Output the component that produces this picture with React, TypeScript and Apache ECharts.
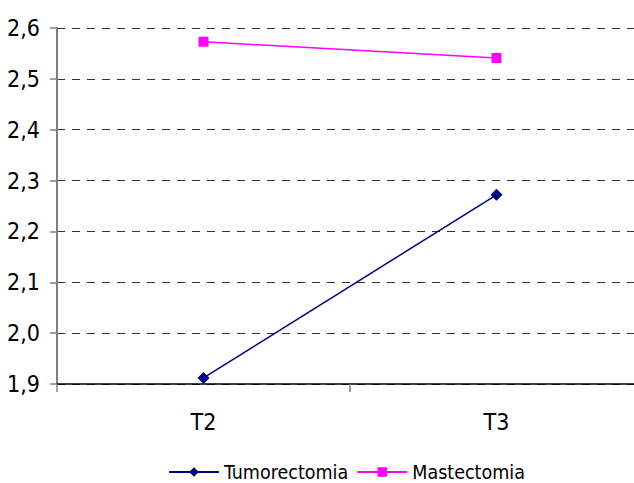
import React, { useEffect, useRef } from "react";
import * as echarts from "echarts";

const categories = ["T2", "T3"];
const tumorectomia = [1.912, 2.272];
const mastectomia = [2.573, 2.541];
const yMin = 1.9;
const yMax = 2.6;
const yInterval = 0.1;

const FONT = "'Liberation Sans Narrow', 'Arial Narrow', 'DejaVu Sans Condensed', sans-serif";

export default function App() {
  const ref = useRef<HTMLDivElement>(null);
  useEffect(() => {
    if (!ref.current) return;
    const chart = echarts.init(ref.current, null, { renderer: "svg" });
    chart.setOption({
      animation: false,
      backgroundColor: "#ffffff",
      grid: {
        left: 57,
        width: 586,
        top: 28,
        height: 356,
        containLabel: false,
        outerBoundsMode: "none",
      },
      legend: {
        left: 168,
        top: 462,
        padding: 0,
        itemWidth: 50,
        itemHeight: 12,
        itemGap: 8,
        textStyle: { fontFamily: FONT, fontSize: 19.5, color: "#000" },
        data: ["Tumorectomia", "Mastectomia"],
      },
      xAxis: {
        type: "category",
        data: categories,
        boundaryGap: true,
        axisLine: { lineStyle: { color: "#000", width: 1.5 } },
        axisTick: { show: true, length: 8, lineStyle: { color: "#808080", width: 1.5 } },
        axisLabel: { fontFamily: FONT, fontSize: 23, color: "#000", margin: 26 },
        splitLine: { show: false },
      },
      yAxis: {
        type: "value",
        min: yMin,
        max: yMax,
        interval: yInterval,
        axisLine: { show: true, lineStyle: { color: "#808080", width: 2 } },
        axisTick: { show: true, length: 7, lineStyle: { color: "#808080", width: 1.5 } },
        axisLabel: {
          fontFamily: FONT,
          fontSize: 23,
          color: "#000",
          margin: 17,
          formatter: (v: number) => v.toFixed(1).replace(".", ","),
        },
        splitLine: { show: true, lineStyle: { color: "#333", width: 1.2, type: [8, 7] } },
      },
      series: [
        {
          name: "Tumorectomia",
          type: "line",
          data: tumorectomia,
          symbol: "diamond",
          symbolSize: 12,
          lineStyle: { color: "#000080", width: 1.5 },
          itemStyle: { color: "#000080" },
        },
        {
          name: "Mastectomia",
          type: "line",
          data: mastectomia,
          symbol: "rect",
          symbolSize: 10,
          lineStyle: { color: "#FF00FF", width: 1.5 },
          itemStyle: { color: "#FF00FF" },
        },
      ],
    });
    return () => chart.dispose();
  }, []);
  return (
    <div
      ref={ref}
      style={{ position: "fixed", left: 0, top: 0, width: 634, height: 483 }}
    />
  );
}
